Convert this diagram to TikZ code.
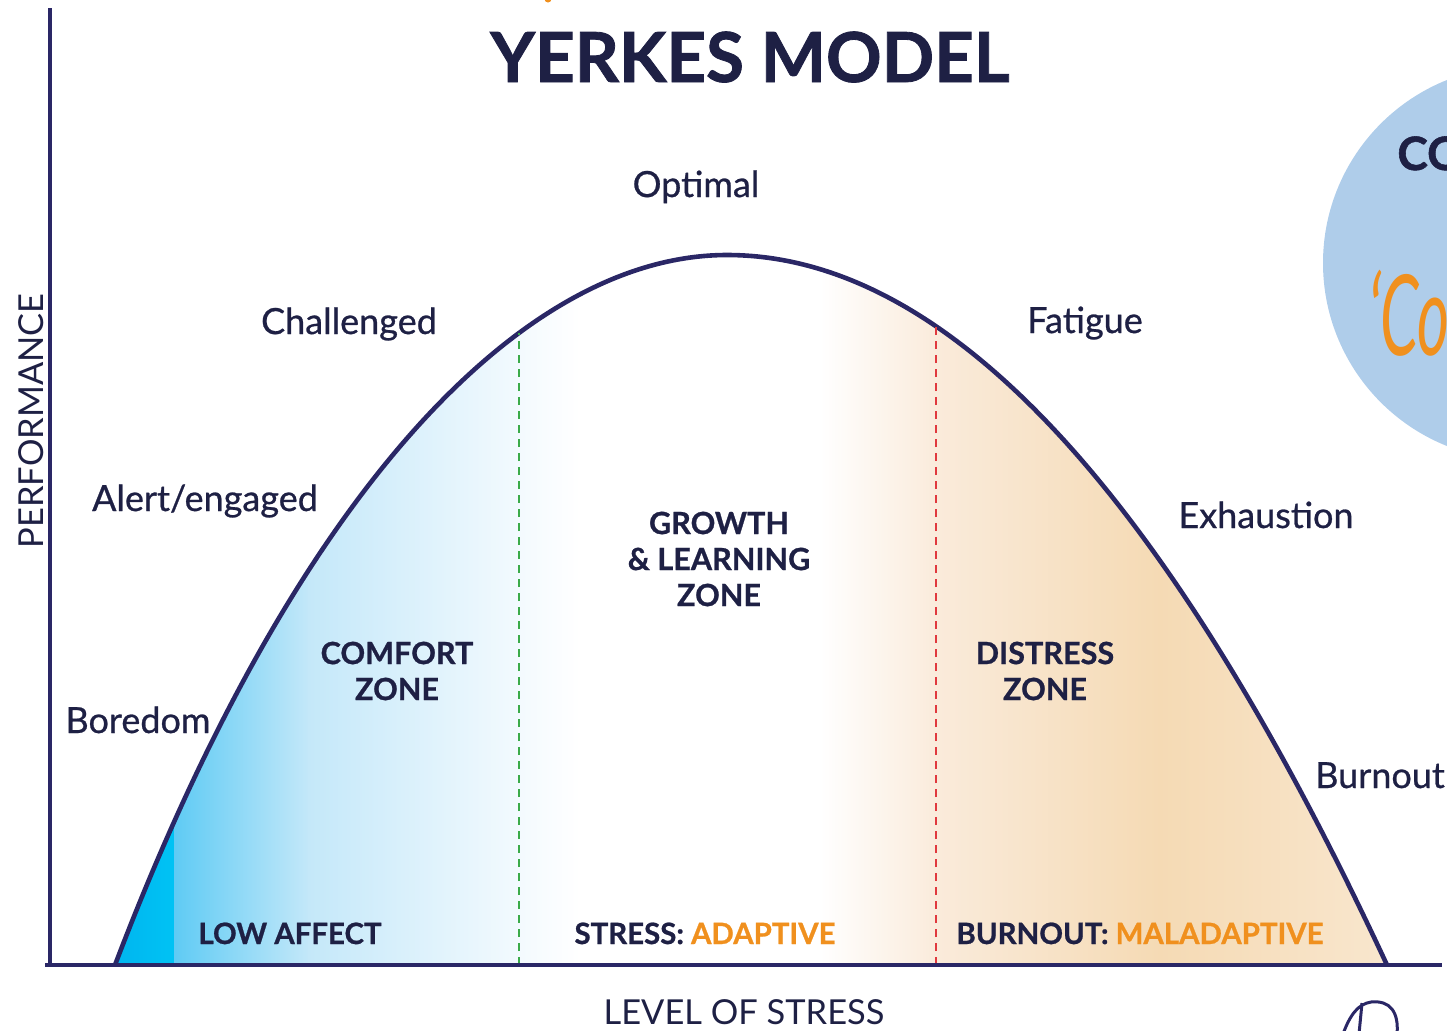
\documentclass[tikz,border=0pt]{standalone}
\usepackage{fontspec}
\setmainfont{Lato}
\newfontfamily\heavyfont{Lato}[FakeBold=1.2]
\newfontfamily\boldfont{Lato}[FakeBold=0.8]
\newfontfamily\midfont{Lato}[FakeBold=0.7]
\usetikzlibrary{positioning}

\definecolor{ink}{HTML}{1E2044}
\definecolor{navy}{HTML}{2A2766}
\definecolor{accent}{HTML}{F0901E}
\definecolor{growthline}{HTML}{3BAA49}
\definecolor{distressline}{HTML}{E0393E}
\definecolor{bubble}{HTML}{AFCDEA}
\definecolor{cyandeep}{HTML}{00B2EE}
\definecolor{cyanmid}{HTML}{00C3F4}
\definecolor{skyA}{HTML}{5FCBF4}
\definecolor{skyB}{HTML}{C4E8F9}
\definecolor{skyC}{HTML}{F3FAFE}
\definecolor{peachA}{HTML}{FAEBDB}
\definecolor{peachB}{HTML}{F5DAB4}
\definecolor{peachC}{HTML}{F9E7CF}

% outline of the performance curve
\def\bellpath{(115,965) .. controls (295,492) and (523,255) .. (727,255)
  .. controls (947,255) and (1167,492) .. (1387,965)}

\begin{document}
\begin{tikzpicture}[x=0.5pt, y=-0.5pt,
  headline/.style={text=ink, font=\heavyfont\bfseries\fontsize{34.5}{38}\selectfont, inner sep=0pt},
  stage/.style={text=ink, font=\midfont\fontsize{18}{21}\selectfont, inner sep=0pt, anchor=base},
  zone/.style={text=ink, font=\boldfont\bfseries\fontsize{15.3}{18}\selectfont, align=center, inner sep=0pt},
  tag/.style={text=ink, font=\boldfont\bfseries\fontsize{14.7}{17}\selectfont, inner sep=0pt, anchor=base},
  axislabel/.style={text=ink, font=\fontsize{17.2}{20}\selectfont, inner sep=0pt, anchor=base},
  boundary/.style={dash pattern=on 4pt off 3pt, line width=1.4pt},
  axis/.style={draw=navy, line width=2pt}
]
  \useasboundingbox (0,0) rectangle (1447,1030);
  \clip (0,0) rectangle (1447,1030);

  % -- side bubble, cut by the page edge --
  \fill[bubble] (1520,263) circle (197);
  \node[text=ink, font=\heavyfont\bfseries\fontsize{23}{25}\selectfont, inner sep=0pt, anchor=base west]
    (co) at (1397,170) {CO};
  \node[text=accent, font=\itshape\fontsize{56}{60}\selectfont, inner sep=0pt, anchor=base west,
    transform shape, xscale=0.55] (coscript) at (1368,355) {‘Co};
  \fill[accent] (548,-1) circle (3.5);

  % -- shaded zones under the curve --
  \begin{scope}
    \clip \bellpath -- cycle;
    \shade[left color=cyandeep, right color=cyanmid] (100,240) rectangle (176,970);
    \shade[left color=skyA, right color=skyB] (174,240) rectangle (310,970);
    \shade[left color=skyB, right color=skyC] (308,240) rectangle (520,970);
    \shade[left color=skyC, right color=white] (518,240) rectangle (580,970);
    \shade[left color=white, right color=peachA] (820,240) rectangle (937,970);
    \shade[left color=peachA, right color=peachB] (935,240) rectangle (1160,970);
    \shade[left color=peachB, right color=peachC] (1158,240) rectangle (1400,970);
  \end{scope}
  \draw[navy, line width=2.3pt] \bellpath;

  % -- zone boundaries --
  \coordinate (gbase) at (519,965);
  \coordinate (gtop)  at (519,333);
  \coordinate (dbase) at (936,965);
  \coordinate (dtop)  at (936,326);
  \draw[boundary, growthline] (gbase) -- (gtop);
  \draw[boundary, distressline] (dbase) -- (dtop);

  % -- axes --
  \coordinate (origin) at (50,965);
  \coordinate (ytip)   at (50,8);
  \coordinate (xtip)   at (1442,965);
  \draw[axis] (ytip) -- (50,967);
  \draw[axis] (45,965) -- (xtip);

  % -- title and axis names --
  \node[headline, anchor=base] (title) at (750,82) {YERKES MODEL};
  \node[axislabel] (xname) at (744,1024) {LEVEL OF STRESS};
  \node[axislabel, rotate=90] (yname) at (43,421) {PERFORMANCE};

  % -- states along the curve --
  \node[stage] (optimal)    at (696,197) {Optimal};
  \node[stage] (challenged) at (349,334) {Challenged};
  \node[stage] (fatigue)    at (1085,333) {Fatigue};
  \node[stage] (alert)      at (205,511) {Alert/engaged};
  \node[stage] (exhaustion) at (1266,528) {Exhaustion};
  \node[stage] (boredom)    at (138,733) {Boredom};
  \node[stage] (burnout)    at (1380,788) {Burnout};

  % -- zone names --
  \node[zone] (comfort)  at (397,671) {COMFORT\\ZONE};
  \node[zone] (growth)   at (719,559) {GROWTH\\\& LEARNING\\ZONE};
  \node[zone] (distress) at (1045,671) {DISTRESS\\ZONE};

  % -- effect of stress per zone --
  \node[tag] (lowaffect) at (290,944) {LOW AFFECT};
  \node[tag] (adaptive)  at (705,944) {STRESS: \textcolor{accent}{ADAPTIVE}};
  \node[tag] (maladapt)  at (1140,944) {BURNOUT: \textcolor{accent}{MALADAPTIVE}};

  % -- signature mark --
  \draw[navy, line width=1.5pt, line cap=round]
    (1343,1034) .. controls (1350,1015) and (1358,1004) .. (1371,1002)
    .. controls (1390,1000) and (1399,1012) .. (1397,1034);
  \draw[navy, line width=1.5pt] (1362,1003) -- (1359,1034);
\end{tikzpicture}
\end{document}
